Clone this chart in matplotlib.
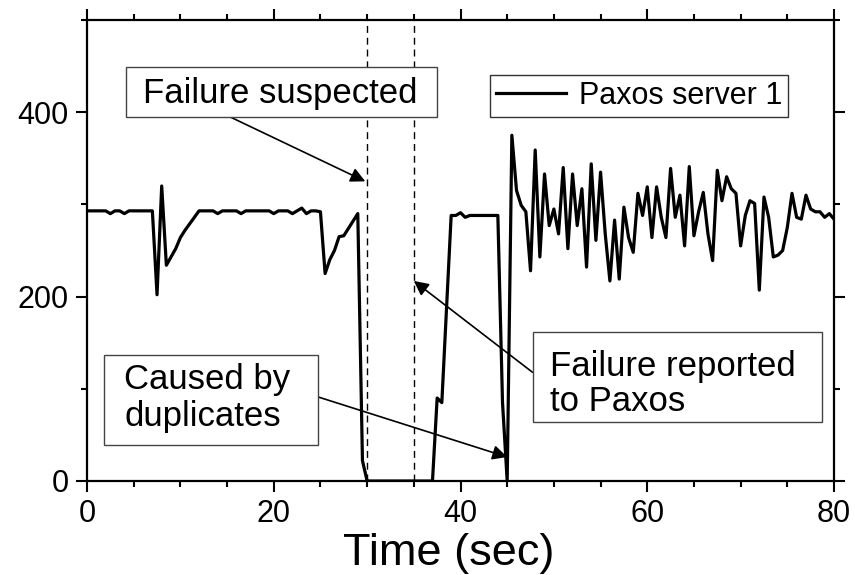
import numpy as np
import matplotlib
matplotlib.use("Agg")
import matplotlib.pyplot as plt
from matplotlib.patches import Rectangle
from matplotlib.ticker import MultipleLocator

plt.rcParams['font.family'] = ['Liberation Sans', 'DejaVu Sans']

# --- data: one sample every 0.5 s ---
time_sec = np.arange(0, 80.5, 0.5)
values = [
    293, 293, 293, 293, 293, 290, 293, 293, 290, 293,   # 0 - 4.5
    293, 293, 293, 293, 293, 202, 320, 234, 243, 252,   # 5 - 9.5
    264, 272, 279, 286, 293, 293, 293, 293, 290, 293,   # 10 - 14.5
    293, 293, 293, 290, 293, 293, 293, 293, 293, 293,   # 15 - 19.5
    290, 293, 293, 293, 290, 293, 296, 290, 293, 293,   # 20 - 24.5
    292, 225, 240, 250, 265, 266, 274, 282, 290, 22,    # 25 - 29.5
    0, 0, 0, 0, 0, 0, 0, 0, 0, 0,                       # 30 - 34.5
    0, 0, 0, 0, 0, 90, 85, 186, 288, 288,               # 35 - 39.5
    291, 286, 288, 288, 288, 288, 288, 288, 288, 85,    # 40 - 44.5
    0, 375, 315, 299, 292, 228, 359, 243, 333, 277,     # 45 - 49.5
    295, 268, 340, 252, 333, 277, 317, 232, 344, 261,   # 50 - 54.5
    335, 268, 217, 283, 219, 297, 264, 248, 312, 288,   # 55 - 59.5
    319, 264, 319, 286, 264, 339, 286, 310, 255, 341,   # 60 - 64.5
    266, 292, 313, 268, 239, 337, 304, 330, 317, 312,   # 65 - 69.5
    255, 288, 304, 301, 207, 308, 286, 243, 245, 250,   # 70 - 74.5
    275, 312, 286, 284, 310, 295, 292, 292, 286, 290,   # 75 - 79.5
    284,                                                # 80
]
series_label = "Paxos server 1"
marker_times = [30, 35]

# annotation texts: (lines, box px [x0, y0, x1, y1], text left px, baselines px)
W, H = 855, 575
notes = [
    (["Failure suspected"], (126, 67, 437, 117), 143, [103]),
    (["Caused by", "duplicates"], (104, 355, 318, 445), 124, [389, 426]),
    (["Failure reported", "to Paxos"], (533, 332, 822, 422), 550, [376, 411]),
]
# arrows: (tail, head) in data coords
arrows = [
    ((15.3, 395), (29.8, 325)),
    ((24.8, 91), (45.0, 26)),
    ((47.7, 118), (35.0, 217)),
]

fig = plt.figure(figsize=(8.55, 5.75), dpi=100)
ax = fig.add_axes([87 / W, 1 - 481 / H, (834 - 87) / W, (481 - 20) / H])

ax.plot(time_sec, values, color='black', lw=2.3, label=series_label, zorder=3)
for t in marker_times:
    ax.axvline(t, color='black', lw=1.0, ls=(0, (5, 3.5)), zorder=2)

ax.set_xlim(0, 80)
ax.set_ylim(0, 500)
ax.set_xticks([0, 20, 40, 60, 80])
ax.set_yticks([0, 200, 400])
ax.xaxis.set_minor_locator(MultipleLocator(5))
ax.yaxis.set_minor_locator(MultipleLocator(100))
ax.tick_params(which='both', direction='out', top=True, right=True,
               width=1.5, labelsize=22)
ax.tick_params(which='major', length=8, pad=5)
ax.tick_params(which='minor', length=4.5)
for s in ax.spines.values():
    s.set_linewidth(1.6)

fig.text(449 / W, 1 - 565 / H, "Time (sec)", fontsize=32.5,
         ha='center', va='baseline')

for tail, head in arrows:
    ax.annotate('', xy=head, xytext=tail,
                arrowprops=dict(arrowstyle='-|>', color='black', lw=1.2,
                                mutation_scale=22, shrinkA=0, shrinkB=0),
                zorder=4)

for lines, (x0, y0, x1, y1), tx, bases in notes:
    fig.add_artist(Rectangle((x0 / W, 1 - y1 / H), (x1 - x0) / W, (y1 - y0) / H,
                             transform=fig.transFigure, facecolor='white',
                             edgecolor='#444444', lw=1.0, zorder=5))
    for line, b in zip(lines, bases):
        fig.text(tx / W, 1 - b / H, line, fontsize=25, ha='left',
                 va='baseline', zorder=6)

leg = ax.legend(loc='upper left', bbox_to_anchor=(490 / W, 1 - 75 / H),
                bbox_transform=fig.transFigure, fontsize=22, frameon=True,
                fancybox=False, handlelength=2.3, handletextpad=0.4,
                borderpad=0.2, borderaxespad=0)
leg.get_frame().set_edgecolor('black')
leg.get_frame().set_linewidth(1.0)
leg.set_zorder(7)

fig.savefig("out.png", dpi=100)
